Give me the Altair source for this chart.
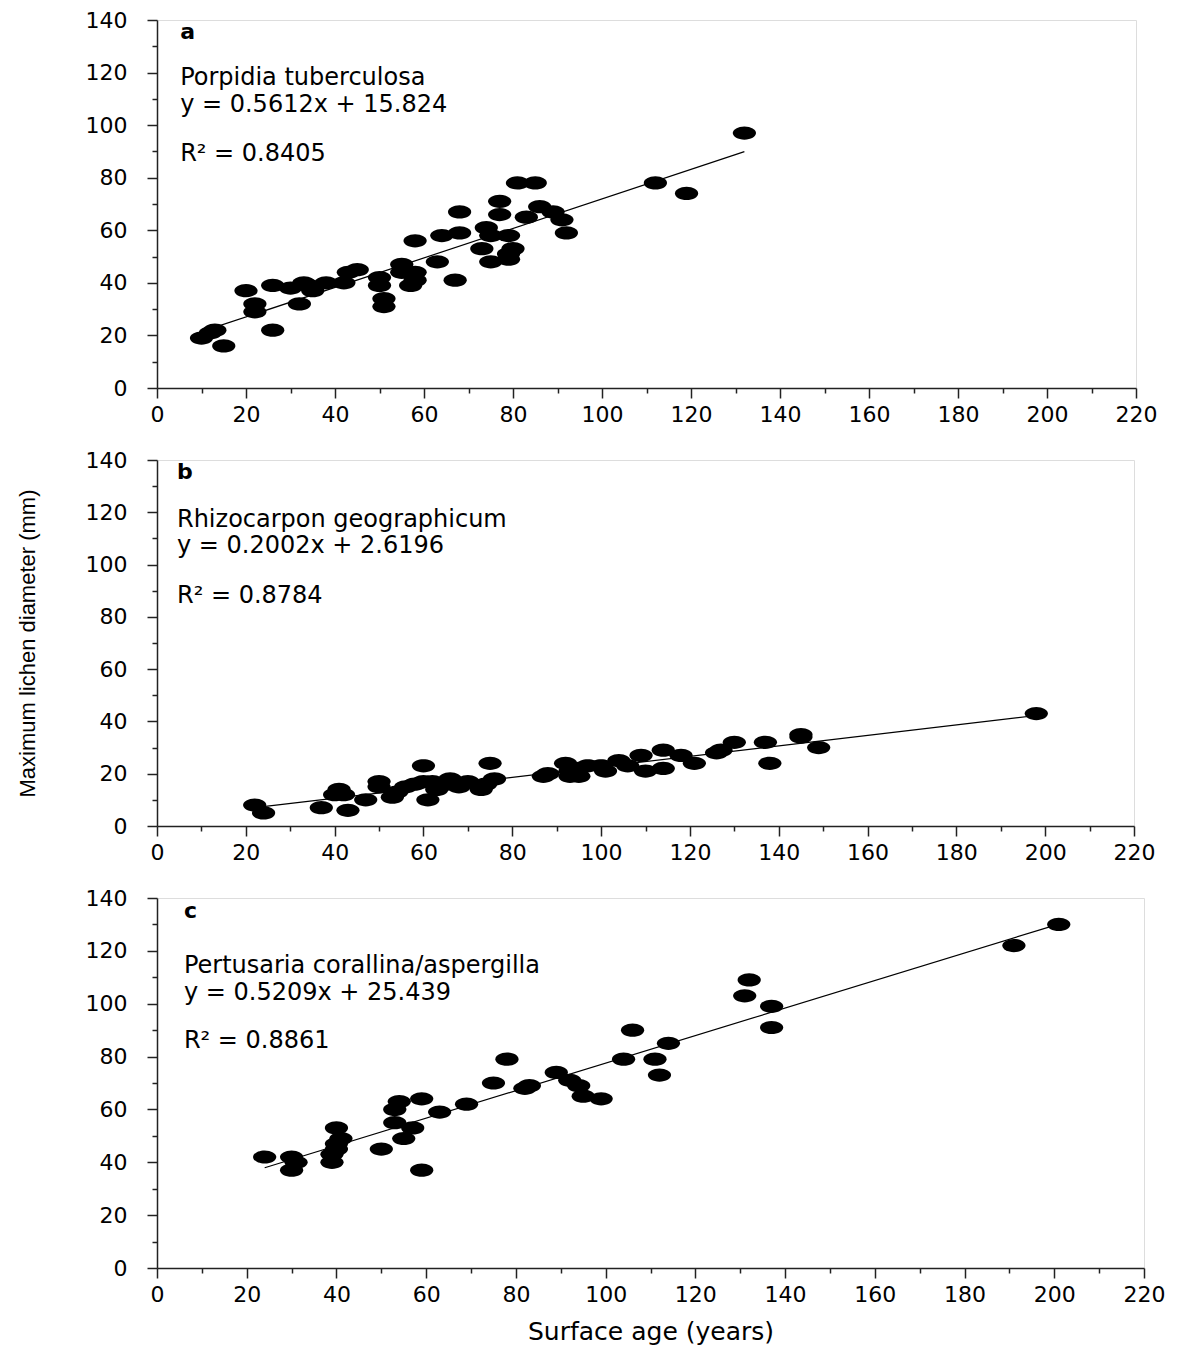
import altair as alt
import pandas as pd

# ---------------- data ----------------
a_age = [10, 12, 13, 15, 20, 22, 22, 26, 26, 30, 32, 33, 34, 35, 38, 42, 43, 45, 50, 50,
         51, 51, 55, 55, 58, 57, 58, 58, 63, 64, 67, 68, 68, 73, 74, 75, 75, 77, 77, 79,
         80, 79, 79, 81, 85, 83, 86, 89, 91, 92, 112, 119, 132]
a_diam = [19, 21, 22, 16, 37, 32, 29, 39, 22, 38, 32, 40, 39, 37, 40, 40, 44, 45, 42, 39,
          34, 31, 47, 44, 44, 39, 41, 56, 48, 58, 41, 67, 59, 53, 61, 58, 48, 71, 66, 58,
          53, 51, 49, 78, 78, 65, 69, 67, 64, 59, 78, 74, 97]

b_age = [22, 24, 37, 40, 41, 42, 43, 47, 50, 50, 53, 54, 56, 58, 60, 60, 61, 62, 63, 65,
         66, 68, 70, 73, 74, 75, 76, 87, 88, 92, 93, 93, 95, 95, 97, 100, 101, 104, 106, 109,
         110, 114, 114, 118, 121, 126, 127, 130, 137, 138, 145, 145, 149, 198]
b_diam = [8, 5, 7, 12, 14, 12, 6, 10, 17, 15, 11, 13, 15, 16, 23, 17, 10, 17, 14, 16,
          18, 15, 17, 14, 16, 24, 18, 19, 20, 24, 19, 21, 22, 19, 23, 23, 21, 25, 23, 27,
          21, 22, 29, 27, 24, 28, 29, 32, 32, 24, 35, 34, 30, 43]

c_age = [24, 30, 31, 30, 40, 41, 40, 40, 39, 39, 50, 53, 53, 54, 55, 57, 59, 59, 63, 69,
         75, 78, 82, 83, 89, 92, 94, 95, 99, 104, 106, 111, 112, 114, 131, 132, 137, 137, 191, 201]
c_diam = [42, 42, 40, 37, 53, 49, 47, 45, 43, 40, 45, 55, 60, 63, 49, 53, 64, 37, 59, 62,
          70, 79, 68, 69, 74, 71, 69, 65, 64, 79, 90, 79, 73, 85, 103, 109, 99, 91, 122, 130]

letters = ["a", "b", "c"]
species = ["Porpidia tuberculosa", "Rhizocarpon geographicum", "Pertusaria corallina/aspergilla"]
equations = ["y = 0.5612x + 15.824", "y = 0.2002x + 2.6196", "y = 0.5209x + 25.439"]
r2_labels = ["R\u00b2 = 0.8405", "R\u00b2 = 0.8784", "R\u00b2 = 0.8861"]
slopes = [0.5612, 0.2002, 0.5209]
intercepts = [15.824, 2.6196, 25.439]

# annotation anchor (data units)
text_x = [5.2, 4.5, 6.0]
letter_y = [135.5, 135.4, 135.2]
species_y = [117.9, 117.0, 114.3]
eq_y = [107.6, 107.2, 104.0]
r2_y = [89.0, 88.1, 85.9]

panel_w = [979, 977, 987]
panel_h = [368, 366, 370]

ELLIPSE = "M-1,0A1,0.57,0,1,1,1,0A1,0.57,0,1,1,-1,0Z"
FONT = "DejaVu Sans"


def x_axis(show_title):
    kw = dict(
        values=list(range(0, 221, 10)),
        labelExpr="datum.value % 20 === 0 ? datum.label : ''",
        tickSize={"condition": {"test": "datum.value % 20 === 0", "value": 10}, "value": 5},
        labelFont=FONT, labelFontSize=22, labelColor="black",
        labelPadding=6, labelFlush=False, labelOverlap=False, labelBound=False,
        domainColor="#222", domainWidth=1.5, tickColor="#222", tickWidth=1.5,
        grid=False,
    )
    if show_title:
        kw.update(title="Surface age (years)", titleFont=FONT, titleFontSize=25,
                  titleFontWeight="normal", titleColor="black", titlePadding=14)
    else:
        kw.update(title=None)
    return alt.Axis(**kw)


def y_axis(show_title):
    kw = dict(
        values=list(range(0, 141, 10)),
        labelExpr="datum.value % 20 === 0 ? datum.label : ''",
        tickSize={"condition": {"test": "datum.value % 20 === 0", "value": 10}, "value": 5},
        labelFont=FONT, labelFontSize=22, labelColor="black",
        labelPadding=20, labelFlush=False, labelOverlap=False, labelBound=False,
        domainColor="#222", domainWidth=1.5, tickColor="#222", tickWidth=1.5,
        grid=False,
    )
    if show_title:
        kw.update(title="Maximum lichen diameter (mm)",
                  titleFont="Liberation Sans Narrow, Liberation Sans",
                  titleFontSize=22, titleFontWeight="normal", titleColor="black",
                  titlePadding=46)
    else:
        kw.update(title=None)
    return alt.Axis(**kw)


def panel(i, ages, diams, show_x_title, show_y_title):
    xs = alt.X("age:Q", scale=alt.Scale(domain=[0, 220], nice=False, zero=False),
               axis=x_axis(show_x_title))
    ys = alt.Y("diam:Q", scale=alt.Scale(domain=[0, 140], nice=False, zero=False),
               axis=y_axis(show_y_title))

    pts_df = pd.DataFrame({"age": ages, "diam": diams})
    pts = alt.Chart(pts_df).mark_point(
        shape=ELLIPSE, filled=True, size=540, color="black", opacity=1, strokeWidth=0
    ).encode(x=xs, y=ys)

    x0, x1 = min(ages), max(ages)
    line_df = pd.DataFrame({"age": [x0, x1],
                            "diam": [slopes[i] * x0 + intercepts[i], slopes[i] * x1 + intercepts[i]]})
    line = alt.Chart(line_df).mark_line(color="black", strokeWidth=1.2).encode(x=xs, y=ys)

    txt_df = pd.DataFrame({"age": [text_x[i]] * 3,
                           "diam": [species_y[i], eq_y[i], r2_y[i]],
                           "label": [species[i], equations[i], r2_labels[i]]})
    txt = alt.Chart(txt_df).mark_text(
        align="left", baseline="middle", font=FONT, fontSize=24, color="black"
    ).encode(x=xs, y=ys, text="label:N")

    let_df = pd.DataFrame({"age": [text_x[i]], "diam": [letter_y[i]], "label": [letters[i]]})
    let = alt.Chart(let_df).mark_text(
        align="left", baseline="middle", font=FONT, fontSize=22, fontWeight="bold", color="black"
    ).encode(x=xs, y=ys, text="label:N")

    return alt.layer(line, pts, txt, let).properties(width=panel_w[i], height=panel_h[i])


pa = panel(0, a_age, a_diam, False, False)
pb = panel(1, b_age, b_diam, False, True)
pc = panel(2, c_age, c_diam, True, False)

chart = alt.vconcat(pa, pb, pc, spacing=22).properties(
    padding={"left": 7, "top": 0, "right": 5, "bottom": 2}
).configure_view(strokeWidth=0).configure(background="white")

chart.save("out.html", embed_options={"renderer": "svg", "actions": False})
